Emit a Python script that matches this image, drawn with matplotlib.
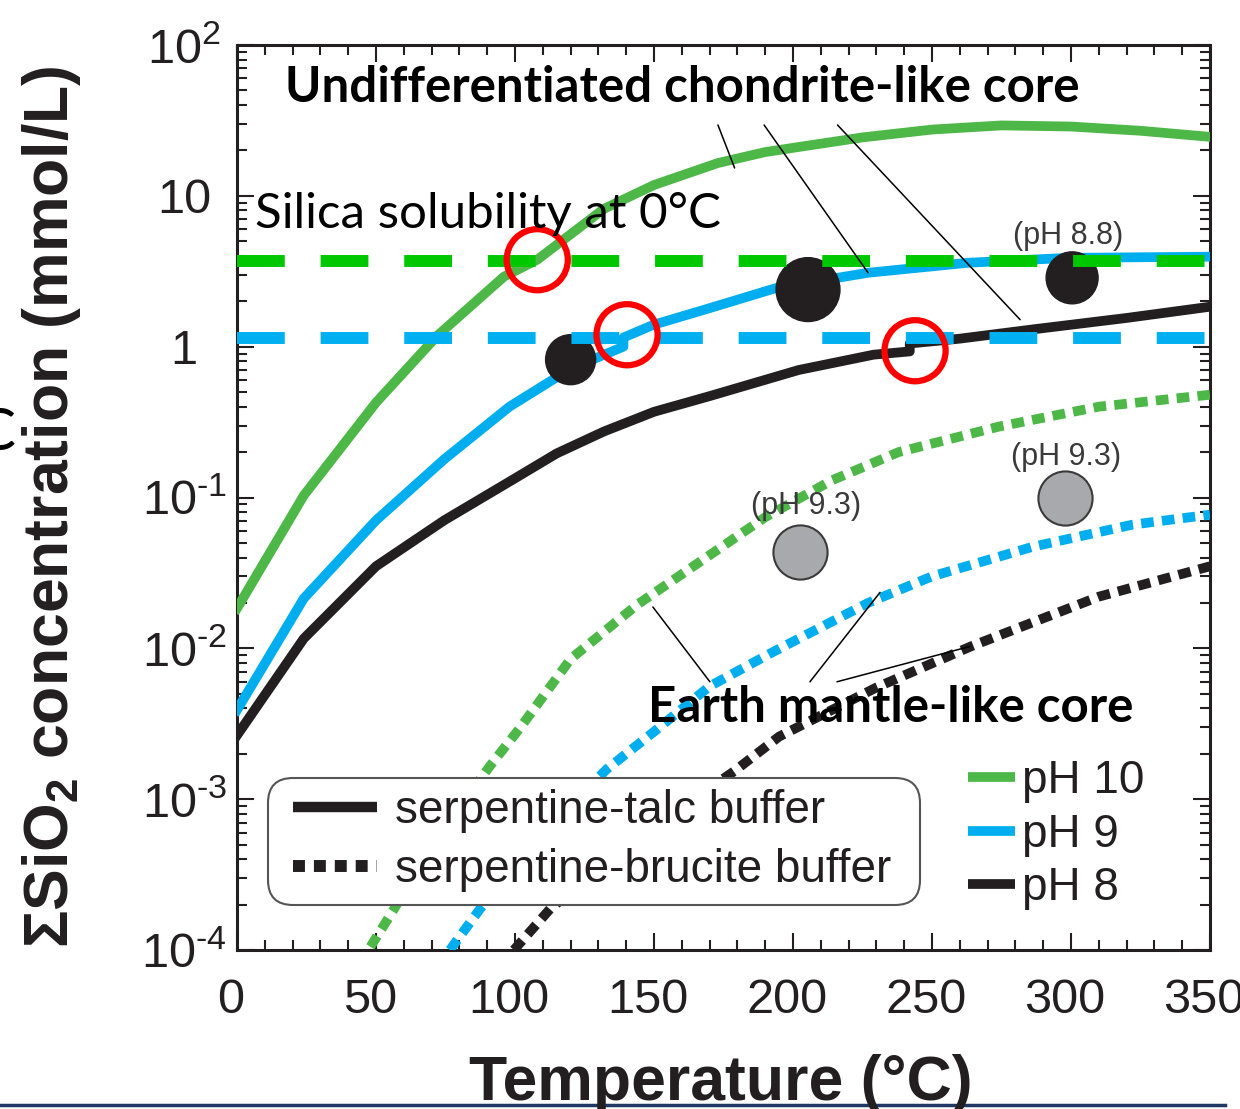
import matplotlib
matplotlib.use('Agg')
import matplotlib.pyplot as plt
import matplotlib.transforms as mtransforms
from matplotlib.lines import Line2D
from matplotlib.patches import FancyBboxPatch
from matplotlib.ticker import FixedLocator, LogLocator, MultipleLocator, NullFormatter

# SiO2 concentration (mmol/L) against temperature (degC)
# serpentine-talc buffer (solid lines)
talc_ph10_T = [0, 24, 50, 72, 96, 108, 132, 150, 173, 190, 200, 225, 250, 275, 300, 325, 350]
talc_ph10 = [0.0184, 0.103, 0.426, 1.18, 2.91, 3.77, 8.2, 11.8, 16.5, 19.5, 20.8, 24.4, 27.5, 29.3, 28.8, 27.0, 24.6]

talc_ph9_T = [0, 24, 50, 74.5, 98, 120, 139, 139, 150, 170, 194, 227, 263, 299, 350]
talc_ph9 = [0.0039, 0.0214, 0.0705, 0.179, 0.40, 0.715, 1.0, 1.15, 1.40, 1.80, 2.45, 3.09, 3.6, 3.88, 3.95]

talc_ph8_T = [0, 24, 50, 74.5, 100, 115, 132, 150, 170, 202, 229, 242, 242, 260, 286, 320, 350]
talc_ph8 = [0.00265, 0.0116, 0.035, 0.0705, 0.134, 0.196, 0.274, 0.37, 0.47, 0.70, 0.885, 0.93, 1.05, 1.13, 1.30, 1.55, 1.84]

# serpentine-brucite buffer (dotted lines)
bruc_ph10_T = [48, 56.5, 70, 91, 102, 120, 144, 167, 190, 214, 238, 274, 310, 350]
bruc_ph10 = [1.05e-4, 1.87e-4, 4.9e-4, 1.66e-3, 3.0e-3, 8.5e-3, 0.0195, 0.038, 0.074, 0.13, 0.20, 0.295, 0.40, 0.48]

bruc_ph9_T = [76.6, 87.4, 110, 133, 150, 170, 193, 227, 250, 286, 322, 350]
bruc_ph9 = [1.0e-4, 1.87e-4, 6.0e-4, 1.58e-3, 2.8e-3, 5.6e-3, 9.5e-3, 0.020, 0.030, 0.047, 0.066, 0.077]

bruc_ph8_T = [99.6, 112.6, 140, 178.8, 195, 230, 264, 310, 350]
bruc_ph8 = [1.0e-4, 1.87e-4, 4.9e-4, 1.53e-3, 2.6e-3, 5.5e-3, 0.0103, 0.022, 0.035]

# silica solubility at 0 degC (dashed lines)
sol_ph10 = 3.7
sol_ph9 = 1.15

# measured points
black_T = [120, 205.4, 300.4]
black_c = [0.82, 2.39, 2.86]
grey_T = [202.5, 297.8]
grey_c = [0.0437, 0.10]
point_labels = ['(pH 8.8)', '(pH 9.3)', '(pH 9.3)']

# crossings highlighted with red rings
ring_T = [108, 140.3, 243.9]
ring_c = [3.77, 1.2, 0.94]

# leader lines: (T, c) at label end -> (T, c) on the curve
top_leaders = [((173, 29.5), (179, 15.3)),
               ((189.6, 29.5), (227, 3.09)),
               ((216, 29.5), (281.7, 1.51))]
bottom_leaders = [((170.1, 0.0060), (149.6, 0.0188)),
                  ((206.1, 0.0060), (231.3, 0.0235)),
                  ((215.8, 0.0060), (263.7, 0.0103))]

y_ticks = [1e-4, 1e-3, 1e-2, 1e-1, 1, 10, 100]
y_ticklabels = ['$\\mathregular{10^{\u20104}}$', '$\\mathregular{10^{\u20103}}$',
                '$\\mathregular{10^{\u20102}}$', '$\\mathregular{10^{\u20101}}$',
                '1', '10', '$\\mathregular{10^{2}}$']

GREEN = '#4db848'
GREEN_D = '#00c800'
BLUE = '#00aeef'
BLUE_D = '#00b0f0'
BLACK = '#231f20'

plt.rcParams['font.family'] = ['Liberation Sans', 'DejaVu Sans']

W, H = 1240, 1109
fig = plt.figure(figsize=(W / 100, H / 100), dpi=100)
ax = fig.add_axes([237 / W, 159 / H, 973 / W, 905 / H])

ax.set_yscale('log')
ax.set_xlim(0, 350)
ax.set_ylim(1e-4, 1e2)

lw = 7
ax.plot(talc_ph10_T, talc_ph10, color=GREEN, lw=lw, zorder=3)
ax.plot(talc_ph9_T, talc_ph9, color=BLUE, lw=lw, zorder=3)
ax.plot(talc_ph8_T, talc_ph8, color=BLACK, lw=lw, zorder=3)

dot = (0, (1.3, 0.85))
ax.plot(bruc_ph10_T, bruc_ph10, color=GREEN, lw=lw, ls=dot, zorder=3)
ax.plot(bruc_ph9_T, bruc_ph9, color=BLUE, lw=lw, ls=dot, zorder=3)
ax.plot(bruc_ph8_T, bruc_ph8, color=BLACK, lw=lw, ls=dot, zorder=3)

ax.scatter(black_T, black_c, s=[1296, 2116, 1400], color=BLACK, zorder=4)
ax.scatter(grey_T, grey_c, s=1521, facecolor='#a7a9ac', edgecolor='#3a3a3a', lw=1.5, zorder=4)

ax.axhline(sol_ph10, color=GREEN_D, lw=8.6, ls=(0, (4, 3)), dash_capstyle='butt', zorder=5)
ax.axhline(sol_ph9, color=BLUE_D, lw=8.6, ls=(0, (4, 3)), dash_capstyle='butt', zorder=5)

ax.scatter(ring_T, ring_c, s=1936, facecolor='none', edgecolor='#ff0000', lw=4.5, zorder=6)

for (a, b) in top_leaders + bottom_leaders:
    ax.annotate('', xy=b, xytext=a,
                arrowprops=dict(arrowstyle='-', color='black', lw=1.1, shrinkA=0, shrinkB=0),
                zorder=6)

# labels above the measured points (offset in pixels)
ax.annotate(point_labels[0], (black_T[2], black_c[2]), xytext=(-4, 42), textcoords='offset pixels',
            fontsize=22, color='#3a3a3a', ha='center', va='center', zorder=6)
ax.annotate(point_labels[1], (grey_T[0], grey_c[0]), xytext=(6, 46), textcoords='offset pixels',
            fontsize=22, color='#3a3a3a', ha='center', va='center', zorder=6)
ax.annotate(point_labels[2], (grey_T[1], grey_c[1]), xytext=(1, 41), textcoords='offset pixels',
            fontsize=22, color='#3a3a3a', ha='center', va='center', zorder=6)

# axes styling
for sp in ax.spines.values():
    sp.set_linewidth(2.2)
    sp.set_color(BLACK)
ax.xaxis.set_major_locator(MultipleLocator(50))
ax.xaxis.set_minor_locator(MultipleLocator(10))
ax.yaxis.set_major_locator(FixedLocator(y_ticks))
ax.yaxis.set_minor_locator(LogLocator(base=10, subs=range(2, 10), numticks=20))
ax.yaxis.set_minor_formatter(NullFormatter())
ax.set_yticklabels(y_ticklabels)
ax.tick_params(which='both', direction='in', top=True, right=True,
               width=1.5, color=BLACK, labelcolor=BLACK, labelsize=35)
ax.tick_params(which='major', length=12)
ax.tick_params(which='minor', length=7)
ax.tick_params(axis='x', pad=20)
ax.tick_params(axis='y', pad=38)
plt.setp(ax.get_yticklabels(), ha='center')
shift = mtransforms.ScaledTranslation(-6 / 100, 0, fig.dpi_scale_trans)
for lbl in ax.get_xticklabels():
    lbl.set_transform(lbl.get_transform() + shift)

# buffer legend in a rounded box
box = FancyBboxPatch((268 / W, 1 - 905 / H), 652 / W, 127 / H,
                     boxstyle='round,pad=0,rounding_size=%f' % (25 / W),
                     mutation_aspect=W / H, transform=fig.transFigure,
                     facecolor='white', edgecolor='#555555', lw=1.5, zorder=5)
fig.add_artist(box)
buf_handles = [Line2D([], [], color=BLACK, lw=7.5, solid_capstyle='butt'),
               Line2D([], [], color=BLACK, lw=8.6, ls=(0, (1, 0.75)), dash_capstyle='butt')]
leg1 = fig.legend(buf_handles, ['serpentine-talc buffer', 'serpentine-brucite buffer'],
                  loc='upper left', bbox_to_anchor=(293 / W, 1 - 789 / H),
                  borderaxespad=0, borderpad=0, frameon=False,
                  fontsize=33, handlelength=1.83, handletextpad=0.39,
                  labelspacing=0.33, labelcolor=BLACK)
leg1.set_zorder(6)

ph_handles = [Line2D([], [], color=c, lw=7, solid_capstyle='butt') for c in (GREEN, BLUE, BLACK)]
leg2 = fig.legend(ph_handles, ['pH 10', 'pH 9', 'pH 8'],
                  loc='upper left', bbox_to_anchor=(968 / W, 1 - 759 / H),
                  borderaxespad=0, borderpad=0, frameon=False, fontsize=33,
                  handlelength=1.03, handletextpad=0.15, labelspacing=0.21, labelcolor=BLACK)
leg2.set_zorder(6)

# slide annotations
fig.text(682 / W, 1 - 102 / H, 'Undifferentiated chondrite-like core', family='Lato',
         fontweight='bold', fontsize=35.5, ha='center', va='baseline', color='black', zorder=8)
fig.text(255 / W, 1 - 228 / H, 'Silica solubility at 0\u00b0C', family='Lato',
         fontsize=35.5, ha='left', va='baseline', color='black', zorder=8)
fig.text(891 / W, 1 - 722 / H, 'Earth mantle-like core', family='Lato',
         fontweight='bold', fontsize=35.5, ha='center', va='baseline', color='black', zorder=8)
fig.text(-24 / W, 1 - 450 / H, 'C', family='Lato', fontsize=42, ha='left', va='baseline', color='black')

# axis titles
fig.text(721 / W, 1 - 1100 / H, 'Temperature (\u00b0C)', fontsize=45, fontweight='bold',
         ha='center', va='baseline', color=BLACK)
fig.text(52 / W, 1 - 507 / H, '\u03a3SiO$_\\mathregular{2}$ concentration (mmol/L)', fontsize=45,
         fontweight='bold', rotation=90, ha='center', va='center', color=BLACK)

fig.add_artist(Line2D([0, 1225 / W], [4 / H, 4 / H], color='#203864', lw=2.5))

fig.savefig('out.png', dpi=100)
